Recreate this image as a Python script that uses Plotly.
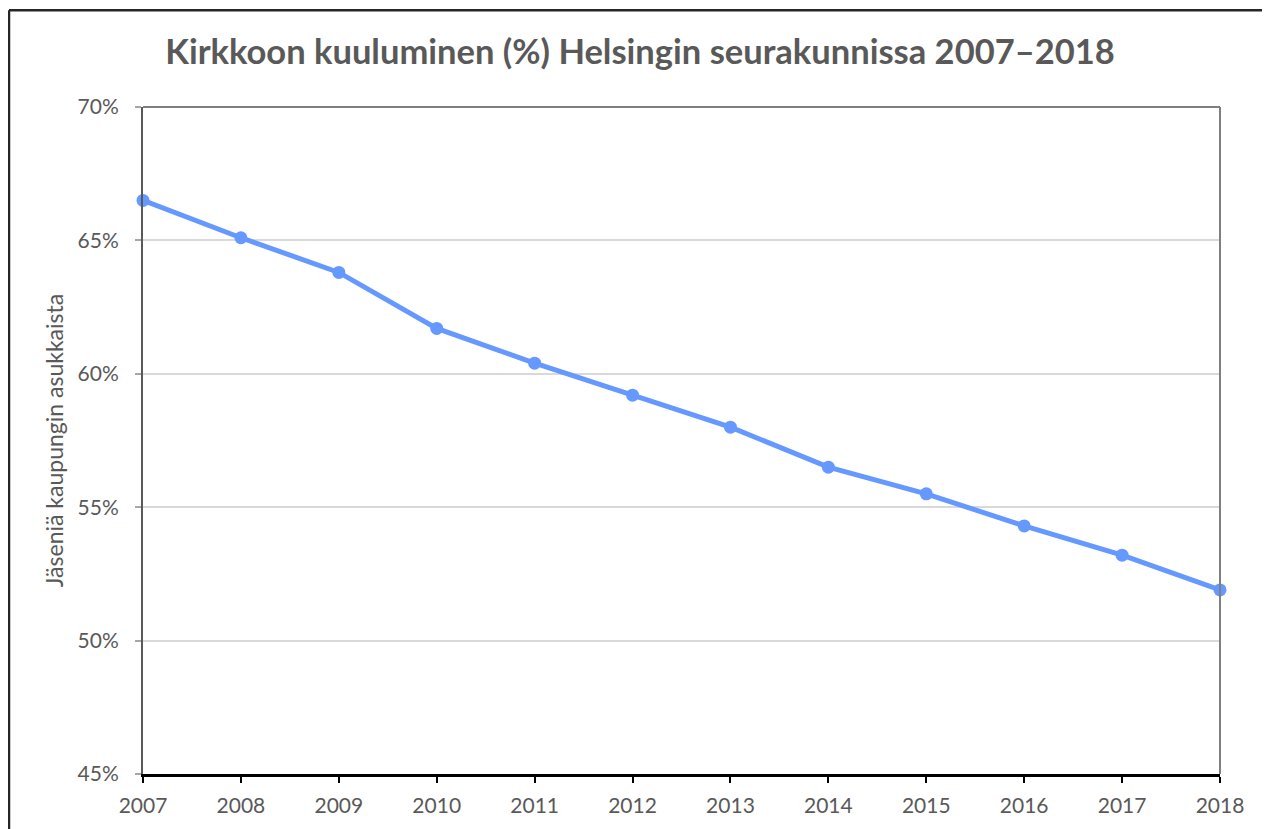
import plotly.graph_objects as go

years = [2007, 2008, 2009, 2010, 2011, 2012, 2013, 2014, 2015, 2016, 2017, 2018]
membership_pct = [66.5, 65.1, 63.8, 61.7, 60.4, 59.2, 58.0, 56.5, 55.5, 54.3, 53.2, 51.9]
y_ticks = [45, 50, 55, 60, 65, 70]
y_tick_labels = ["45%", "50%", "55%", "60%", "65%", "70%"]

title_text = "Kirkkoon kuuluminen (%) Helsingin seurakunnissa 2007–2018"
y_title = "Jäseniä kaupungin asukkaista"

FONT = "Lato"
GRAY = "#595959"
OFF = 8  # page body margin

W, H = 1270 - OFF, 829 - OFF

fig = go.Figure()
fig.add_trace(go.Scatter(
    x=years, y=membership_pct, mode="lines+markers",
    line=dict(color="#6699FF", width=5),
    marker=dict(color="#6699FF", size=13),
    cliponaxis=False, showlegend=False,
))

fig.update_layout(
    width=W, height=H,
    margin=dict(l=143 - OFF, r=50, t=107 - OFF, b=H - (776 - OFF)),
    paper_bgcolor="white", plot_bgcolor="white",
    title=dict(text="<b>" + title_text + "</b>", x=(640 - OFF) / W, xanchor="center",
               y=1 - (52 - OFF) / H, yanchor="middle",
               font=dict(family=FONT, size=34.5, color=GRAY)),
    font=dict(family=FONT, size=20, color=GRAY),
)

fig.update_xaxes(
    range=[2007, 2018], tickmode="array", tickvals=years,
    ticktext=[str(y) for y in years],
    showgrid=False, zeroline=False,
    showline=True, linecolor="black", linewidth=2.5,
    ticks="outside", ticklen=6, tickwidth=2, tickcolor="black",
    ticklabelstandoff=5,
    tickfont=dict(family=FONT, size=21, color=GRAY),
)
fig.update_yaxes(
    range=[45, 70], tickmode="array", tickvals=y_ticks, ticktext=y_tick_labels,
    showgrid=True, gridcolor="#d9d9d9", gridwidth=1.5, zeroline=False,
    showline=True, linecolor=GRAY, linewidth=2,
    ticks="outside", ticklen=6, tickwidth=1.5, tickcolor="#a6a6a6",
    ticklabelstandoff=12,
    tickfont=dict(family=FONT, size=21, color=GRAY),
    title=dict(text=y_title, font=dict(family=FONT, size=23, color=GRAY), standoff=8),
)

# plot-area border (top and right)
fig.add_shape(type="line", xref="paper", yref="paper", x0=0, x1=1, y0=1, y1=1,
              line=dict(color="#7f7f7f", width=2), layer="above")
fig.add_shape(type="line", xref="paper", yref="paper", x0=1, x1=1, y0=0, y1=1,
              line=dict(color="#7f7f7f", width=2), layer="above")

# outer chart border (top and left visible)
fx = lambda px: (px - 143) / 1077
fy = lambda py: (776 - py) / 669
fig.add_shape(type="line", xref="paper", yref="paper", x0=fx(9), x1=fx(1275), y0=fy(10), y1=fy(10),
              line=dict(color="#262626", width=2.5))
fig.add_shape(type="line", xref="paper", yref="paper", x0=fx(9), x1=fx(9), y0=fy(10), y1=fy(835),
              line=dict(color="#262626", width=2.5))

fig.write_html("out.html")
